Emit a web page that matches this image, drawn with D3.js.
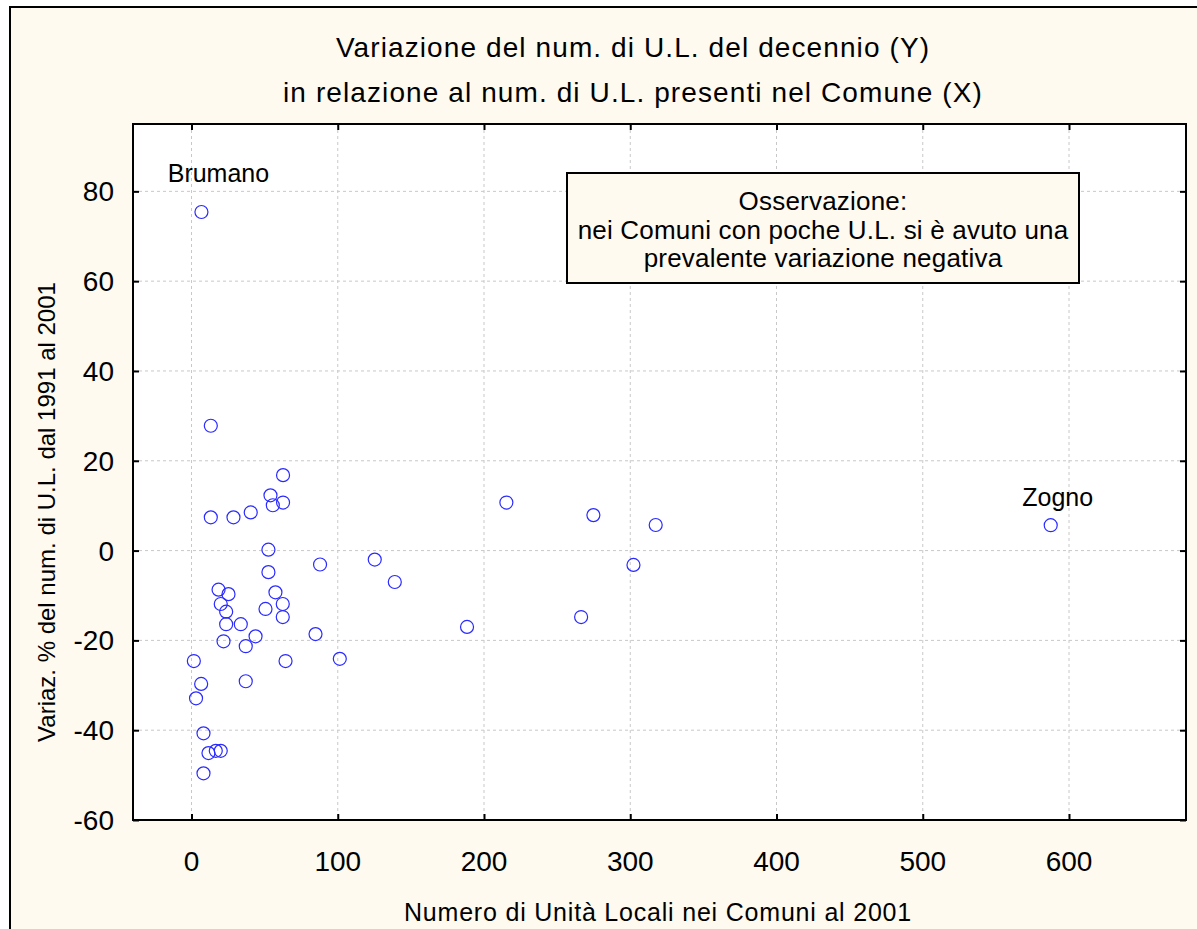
<!DOCTYPE html>
<html>
<head>
<meta charset="utf-8">
<script src="https://cdn.jsdelivr.net/npm/d3@7"></script>
<style>
  html, body { margin: 0; padding: 0; background: #ffffff; }
  svg { display: block; font-family: "Liberation Sans", Arial, sans-serif; }
  .grid line { stroke: #c8c8c8; stroke-dasharray: 3,3; stroke-width: 1; }
  .ticklbl { font-size: 28px; fill: #000; }
</style>
</head>
<body>
<svg></svg>
<script>
// DATA
var unitaLocali = [6.8, 13.2, 62.6, 54, 55.6, 62.6, 13.2, 28.7, 40.5, 52.6, 87.9, 52.6, 18.5, 25.3, 57.4, 20, 62.4,
  23.7, 50.6, 62.4, 23.7, 33.7, 84.8, 43.8, 21.9, 37.1, 1.6, 64.3, 101.4, 6.6, 37.1, 3.1, 8.2, 11.6, 16.6, 20, 8.2,
  215.3, 274.8, 317.4, 125.3, 139, 302.2, 188.4, 266.4, 587.5];
var variazione = [75.4, 27.8, 16.8, 12.3, 10.1, 10.7, 7.4, 7.4, 8.5, 0.2, -3.1, -4.8, -8.7, -9.7, -9.3, -11.9, -11.9,
  -13.6, -13.0, -14.8, -16.4, -16.4, -18.6, -19.1, -20.2, -21.3, -24.6, -24.6, -24.1, -29.7, -29.1, -32.9, -40.7, -45.1, -44.6, -44.6, -49.6,
  10.7, 7.9, 5.7, -2.0, -7.0, -3.2, -17.0, -14.8, 5.65];
var comuni = ["Brumano"].concat(d3.range(44).map(()=>""), ["Zogno"]);

var xTicks = [0, 100, 200, 300, 400, 500, 600];
var yTicks = [-60, -40, -20, 0, 20, 40, 60, 80];
var xDomain = [-40, 680];
var yDomain = [-60, 95];

var titolo = ["Variazione del num. di U.L. del decennio (Y)", "in relazione al num. di U.L. presenti nel Comune (X)"];
var nota = ["Osservazione:", "nei Comuni con poche U.L. si è avuto una", "prevalente variazione negativa"];
var xTitle = "Numero di Unità Locali nei Comuni al 2001";
var yTitle = "Variaz. % del num. di U.L. dal 1991 al 2001";

// LAYOUT
var W = 1197, H = 929;
var plot = {left: 133, right: 1186, top: 124, bottom: 820};
var cream = "#fefaf0";

var svg = d3.select("svg").attr("width", W).attr("height", H);

// outer frame (runs off the right and bottom edges, like the reference)
svg.append("rect")
.attr("x", 10).attr("y", 7)
.attr("width", W + 20).attr("height", H + 20)
.attr("fill", cream)
.attr("stroke", "#000")
.attr("stroke-width", 2);

var x = d3.scaleLinear().domain(xDomain).range([plot.left, plot.right]);
var y = d3.scaleLinear().domain(yDomain).range([plot.bottom, plot.top]);

svg.append("rect")
.attr("x", plot.left).attr("y", plot.top)
.attr("width", plot.right - plot.left).attr("height", plot.bottom - plot.top)
.attr("fill", "#fff");

// GRID
var grid = svg.append("g").attr("class", "grid");
grid.selectAll(".gx").data(xTicks).enter().append("line")
.attr("x1", d=>x(d)).attr("x2", d=>x(d))
.attr("y1", plot.top).attr("y2", plot.bottom);
grid.selectAll(".gy").data(yTicks.filter(d=>d > yDomain[0])).enter().append("line")
.attr("y1", d=>y(d)).attr("y2", d=>y(d))
.attr("x1", plot.left).attr("x2", plot.right);

// AXES (ticks inside, on all four sides)
function noDomain(g) { g.select(".domain").remove(); g.selectAll("text").remove(); g.selectAll("line").attr("stroke", "#000").attr("stroke-width", 2); }
svg.append("g").attr("transform", "translate(0," + plot.bottom + ")")
.call(d3.axisTop(x).tickValues(xTicks).tickSize(6)).call(noDomain);
svg.append("g").attr("transform", "translate(0," + plot.top + ")")
.call(d3.axisBottom(x).tickValues(xTicks).tickSize(6)).call(noDomain);
svg.append("g").attr("transform", "translate(" + plot.left + ",0)")
.call(d3.axisRight(y).tickValues(yTicks).tickSize(6)).call(noDomain);
svg.append("g").attr("transform", "translate(" + plot.right + ",0)")
.call(d3.axisLeft(y).tickValues(yTicks).tickSize(6)).call(noDomain);

svg.append("rect")
.attr("x", plot.left).attr("y", plot.top)
.attr("width", plot.right - plot.left).attr("height", plot.bottom - plot.top)
.attr("fill", "none").attr("stroke", "#000").attr("stroke-width", 2);

// tick labels
svg.selectAll(".xl").data(xTicks).enter().append("text")
.attr("class", "ticklbl")
.attr("x", d=>x(d)).attr("y", plot.bottom + 51)
.attr("text-anchor", "middle")
.text(d=>d);
svg.selectAll(".yl").data(yTicks).enter().append("text")
.attr("class", "ticklbl")
.attr("x", plot.left - 19).attr("y", d=>y(d) + 10)
.attr("text-anchor", "end")
.text(d=>d);

// TITLES
svg.selectAll(".tt").data(titolo).enter().append("text")
.attr("x", 633).attr("y", (d,i)=>57 + i*45)
.attr("text-anchor", "middle")
.style("font-size", "28px")
.style("letter-spacing", "1.1px")
.text(d=>d);

svg.append("text")
.attr("x", 658).attr("y", 921)
.attr("text-anchor", "middle")
.style("font-size", "25px")
.style("letter-spacing", "0.8px")
.text(xTitle);

svg.append("text")
.attr("transform", "translate(55,512) rotate(-90)")
.attr("text-anchor", "middle")
.style("font-size", "24px")
.text(yTitle);

// NOTE BOX
svg.append("rect")
.attr("x", 567).attr("y", 173)
.attr("width", 512).attr("height", 110)
.attr("fill", cream).attr("stroke", "#000").attr("stroke-width", 2);
svg.selectAll(".nt").data(nota).enter().append("text")
.attr("x", 823).attr("y", (d,i)=>210 + i*28.5)
.attr("text-anchor", "middle")
.style("font-size", "26px")
.style("letter-spacing", "0.2px")
.text(d=>d);

// POINTS
var pts = unitaLocali.map((d,i)=>({x: d, y: variazione[i], name: comuni[i]}));
svg.append("g").selectAll("circle").data(pts).enter().append("circle")
.attr("cx", d=>x(d.x)).attr("cy", d=>y(d.y))
.attr("r", 6.5)
.attr("fill", "none")
.attr("stroke", "#2a2aff")
.attr("stroke-width", 1.2);

// point labels
var labelOffset = {Brumano: [17, -30], Zogno: [7, -19]};
svg.selectAll(".pl").data(pts.filter(d=>d.name)).enter().append("text")
.attr("x", d=>x(d.x) + labelOffset[d.name][0])
.attr("y", d=>y(d.y) + labelOffset[d.name][1])
.attr("text-anchor", "middle")
.style("font-size", "25px")
.text(d=>d.name);
</script>
</body>
</html>
